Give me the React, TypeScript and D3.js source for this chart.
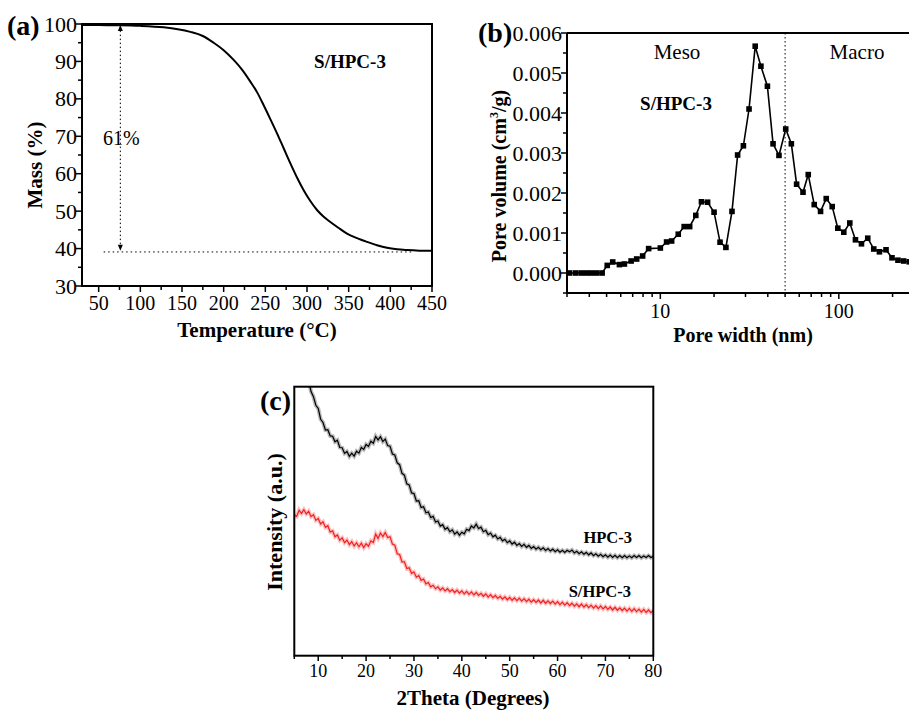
import React from "react";
import * as d3 from "d3";

// ---------- Panel (a): TGA ----------
const tgaTemp = [30, 50, 76, 100, 128, 145, 160, 175, 188, 200, 212, 222, 232, 240, 248, 256, 264, 272, 280, 288, 296, 304, 312, 320, 328, 338, 348, 360, 372, 384, 396, 408, 420, 435, 450];
const tgaMass = [99.75, 99.7, 99.65, 99.5, 99.1, 98.6, 97.9, 96.8, 95.0, 93.0, 90.4, 87.8, 84.6, 81.8, 78.3, 74.6, 70.8, 66.8, 62.8, 59.0, 55.6, 52.7, 50.3, 48.5, 47.1, 45.5, 44.0, 42.8, 41.8, 40.9, 40.2, 39.8, 39.6, 39.45, 39.4];
const tgaXTicks = [50, 100, 150, 200, 250, 300, 350, 400, 450];
const tgaYTicks = [30, 40, 50, 60, 70, 80, 90, 100];
const tgaResidual = 39.1;
const tgaArrowT = 76;

// ---------- Panel (b): pore size distribution ----------
const poreWidth = [3.1, 3.35, 3.6, 3.85, 4.1, 4.4, 4.72, 5.04, 5.41, 5.9, 6.29, 6.86, 7.37, 7.96, 8.6, 10.0, 10.84, 11.57, 12.6, 13.6, 14.6, 15.8, 17.0, 18.4, 20.0, 21.6, 23.3, 25.2, 27.1, 29.2, 31.4, 34.0, 36.6, 39.8, 42.8, 46.2, 50.4, 54.2, 58.0, 63.0, 67.4, 72.8, 79.0, 85.0, 91.8, 98.7, 106.6, 115.2, 123.9, 133.9, 145.2, 156.9, 168.8, 183.8, 198.5, 214.4, 230.7, 248];
const poreVolume = [0, 0, 0, 0, 0, 0, 0, 0.00019, 0.000275, 0.00021, 0.000225, 0.0003, 0.00035, 0.000425, 0.00061, 0.000625, 0.000775, 0.0008, 0.00097, 0.00116, 0.00116, 0.00144, 0.00178, 0.00177, 0.00152, 0.00077, 0.00064, 0.00154, 0.00295, 0.00318, 0.0041, 0.00567, 0.00517, 0.00467, 0.00323, 0.00294, 0.0036, 0.00323, 0.00222, 0.00202, 0.00246, 0.00171, 0.00154, 0.00186, 0.00166, 0.00112, 0.00102, 0.00125, 0.00083, 0.00073, 0.00087, 0.0006, 0.00053, 0.00058, 0.00038, 0.00032, 0.0003, 0.00028];
const poreYTicks = [0, 0.001, 0.002, 0.003, 0.004, 0.005, 0.006];
const poreXTicks = [10, 100];
const mesoMacroBoundary = 50;

// ---------- Panel (c): XRD ----------
const xrdStep = 0.5;
const hpcStart = 8;
const hpcIntensity = [102.1, 98.2, 96.3, 93.1, 91.9, 87.9, 86.7, 83.9, 84.0, 81.7, 81.6, 79.5, 80.1, 77.4, 77.3, 75.2, 75.9, 74.1, 75.3, 74.2, 76.0, 75.3, 77.4, 76.7, 78.5, 77.8, 79.7, 79.0, 81.5, 80.2, 81.4, 79.6, 80.5, 78.1, 77.9, 75.0, 74.6, 71.7, 71.0, 67.8, 67.1, 63.9, 63.5, 60.5, 60.3, 57.5, 57.6, 55.1, 55.4, 53.1, 53.4, 51.4, 51.8, 49.7, 50.1, 48.2, 48.7, 47.0, 47.6, 46.1, 46.8, 45.2, 46.0, 44.8, 45.9, 45.3, 47.0, 46.5, 48.2, 47.5, 48.9, 47.3, 47.8, 46.1, 46.6, 45.0, 45.6, 44.2, 44.8, 43.4, 44.0, 42.7, 43.3, 42.0, 42.7, 41.5, 42.2, 41.0, 41.7, 40.6, 41.4, 40.3, 41.0, 39.9, 40.6, 39.6, 40.3, 39.4, 40.1, 39.1, 39.8, 38.9, 39.6, 38.7, 39.4, 38.5, 39.2, 38.4, 39.2, 38.6, 39.3, 38.2, 38.8, 37.9, 38.6, 37.7, 38.4, 37.5, 38.2, 37.2, 37.9, 37.0, 37.7, 36.8, 37.5, 36.6, 37.4, 36.5, 37.3, 36.4, 37.2, 36.4, 37.2, 36.4, 37.1, 36.4, 37.2, 36.5, 37.2, 36.4, 37.1, 36.5, 37.2, 36.5, 37.0];
const shpcStart = 5;
const shpcIntensity = [52.3, 51.8, 54.1, 52.9, 54.3, 52.7, 53.7, 51.7, 52.4, 50.3, 51.0, 49.0, 49.8, 47.7, 48.3, 46.0, 46.4, 44.2, 44.9, 42.9, 43.8, 42.0, 43.0, 41.3, 42.4, 40.8, 42.0, 40.5, 41.8, 40.2, 41.6, 40.7, 42.7, 42.1, 45.2, 43.6, 45.6, 44.3, 45.8, 43.9, 44.2, 41.5, 41.1, 37.9, 37.6, 34.9, 34.9, 32.4, 32.7, 30.6, 31.1, 29.2, 29.8, 28.0, 28.5, 26.7, 27.2, 25.6, 26.2, 24.9, 25.6, 24.4, 25.2, 24.1, 24.9, 23.8, 24.6, 23.5, 24.4, 23.3, 24.1, 23.0, 23.9, 22.8, 23.7, 22.6, 23.5, 22.4, 23.2, 22.1, 23.0, 21.8, 22.7, 21.6, 22.4, 21.3, 22.1, 21.0, 21.9, 20.8, 21.7, 20.6, 21.5, 20.5, 21.4, 20.3, 21.2, 20.1, 21.0, 19.9, 20.8, 19.8, 20.7, 19.6, 20.6, 19.5, 20.4, 19.4, 20.3, 19.2, 20.1, 19.0, 19.9, 18.8, 19.7, 18.6, 19.5, 18.4, 19.3, 18.2, 19.2, 18.1, 19.0, 17.9, 18.8, 17.7, 18.6, 17.5, 18.5, 17.4, 18.3, 17.2, 18.1, 17.0, 18.0, 16.9, 17.8, 16.8, 17.7, 16.6, 17.6, 16.5, 17.5, 16.4, 17.3, 16.2, 17.2, 16.1, 17.0, 16.0, 16.8];
const xrdXTicks = [10, 20, 30, 40, 50, 60, 70, 80];

const FONT = "'Liberation Serif', 'Times New Roman', serif";

function App() {
  const ax = d3.scaleLinear().domain([30, 450]).range([82, 432]);
  const ay = d3.scaleLinear().domain([30, 100]).range([286, 24]);
  const tgaLine = d3.line<number>().x((_, i) => ax(tgaTemp[i])).y((d) => ay(d)).curve(d3.curveMonotoneX);
  const aMinorX = d3.range(75, 450, 50);
  const aMinorY = d3.range(35, 100, 10);

  const bx = d3.scaleLog().domain([3, 1000]).range([567, 567 + 178.5 * Math.log10(1000 / 3)]);
  const by = d3.scaleLinear().domain([-0.0005, 0.006]).range([293, 33]);
  const poreLine = d3.line<number>().x((_, i) => bx(poreWidth[i])).y((d) => by(d));
  const bMinorX = [3, 4, 5, 6, 7, 8, 9, 20, 30, 40, 50, 60, 70, 80, 90, 200, 300];
  const bMinorY = d3.range(-0.0005, 0.006, 0.001);

  const cx = d3.scaleLinear().domain([5, 80]).range([294.3, 653.3]);
  const cy = d3.scaleLinear().domain([0, 100]).range([655.7, 386.7]);
  const hpcLine = d3.line<number>().x((_, i) => cx(hpcStart + i * xrdStep)).y((d) => cy(d));
  const shpcLine = d3.line<number>().x((_, i) => cx(shpcStart + i * xrdStep)).y((d) => cy(d));
  const cMinorX = d3.range(5, 80, 10);

  const sq = 5.6;

  return (
    <svg width={909} height={710} style={{ position: "absolute", left: 0, top: 0, background: "#fff" }} fontFamily={FONT}>
      <defs>
        <clipPath id="clipC">
          <rect x={cx(5)} y={cy(100)} width={cx(80) - cx(5)} height={cy(0) - cy(100)} />
        </clipPath>
        <clipPath id="clipB">
          <rect x={bx(3)} y={by(0.006)} width={909 - bx(3)} height={by(-0.0005) - by(0.006)} />
        </clipPath>
      </defs>

      {/* ================= (a) ================= */}
      <g>
        <path d={tgaLine(tgaMass) || ""} fill="none" stroke="#000" strokeWidth={2} />
        <line x1={ax(56)} x2={ax(427)} y1={ay(tgaResidual)} y2={ay(tgaResidual)} stroke="#000" strokeWidth={1} strokeDasharray="1.5,3" />
        <line x1={ax(tgaArrowT)} x2={ax(tgaArrowT)} y1={ay(99.3)} y2={ay(39.8)} stroke="#000" strokeWidth={1} strokeDasharray="1.5,2.5" />
        <path d={`M${ax(tgaArrowT)},${ay(99.7)} l-2.5,6 l5,0 z`} fill="#000" />
        <path d={`M${ax(tgaArrowT)},${ay(39.4)} l-2.5,-6 l5,0 z`} fill="#000" />
        <text x={ax(tgaArrowT) + 1} y={145} fontSize={20} textAnchor="middle">61%</text>
        <text x={350} y={68} fontSize={19} fontWeight="bold" textAnchor="middle">S/HPC-3</text>

        <rect x={82} y={24} width={432 - 82} height={286 - 24} fill="none" stroke="#000" strokeWidth={2} />
        {tgaXTicks.map((t) => (
          <g key={"ax" + t}>
            <line x1={ax(t)} x2={ax(t)} y1={286} y2={292} stroke="#000" strokeWidth={1.5} />
            <text x={ax(t)} y={310} fontSize={20} textAnchor="middle">{t}</text>
          </g>
        ))}
        {aMinorX.map((t) => (
          <line key={"axm" + t} x1={ax(t)} x2={ax(t)} y1={286} y2={290} stroke="#000" strokeWidth={1.5} />
        ))}
        {tgaYTicks.map((t) => (
          <g key={"ay" + t}>
            <line x1={82} x2={76} y1={ay(t)} y2={ay(t)} stroke="#000" strokeWidth={1.5} />
            <text x={77} y={ay(t) + 7.5} fontSize={22} textAnchor="end">{t}</text>
          </g>
        ))}
        {aMinorY.map((t) => (
          <line key={"aym" + t} x1={82} x2={78} y1={ay(t)} y2={ay(t)} stroke="#000" strokeWidth={1.5} />
        ))}
        <text x={257} y={337} fontSize={21} fontWeight="bold" textAnchor="middle">Temperature (°C)</text>
        <text transform="translate(42,165) rotate(-90)" fontSize={21} fontWeight="bold" textAnchor="middle">Mass (%)</text>
        <text x={7} y={35} fontSize={28} fontWeight="bold">(a)</text>
      </g>

      {/* ================= (b) ================= */}
      <g>
        <line x1={bx(mesoMacroBoundary)} x2={bx(mesoMacroBoundary)} y1={by(0.006)} y2={by(-0.0005)} stroke="#000" strokeWidth={1} strokeDasharray="1.5,2.5" />
        <g clipPath="url(#clipB)">
          <path d={poreLine(poreVolume) || ""} fill="none" stroke="#000" strokeWidth={1.6} />
          {poreVolume.map((v, i) => (
            <rect key={"sq" + i} x={bx(poreWidth[i]) - sq / 2} y={by(v) - sq / 2} width={sq} height={sq} fill="#000" />
          ))}
        </g>
        <text x={677} y={59} fontSize={21} textAnchor="middle">Meso</text>
        <text x={857} y={59} fontSize={21} textAnchor="middle">Macro</text>
        <text x={676} y={110} fontSize={19} fontWeight="bold" textAnchor="middle">S/HPC-3</text>

        <line x1={bx(3)} x2={909} y1={by(0.006)} y2={by(0.006)} stroke="#000" strokeWidth={2} />
        <line x1={bx(3)} x2={909} y1={by(-0.0005)} y2={by(-0.0005)} stroke="#000" strokeWidth={2} />
        <line x1={bx(3)} x2={bx(3)} y1={by(0.006)} y2={by(-0.0005)} stroke="#000" strokeWidth={2} />
        {poreXTicks.map((t) => (
          <g key={"bx" + t}>
            <line x1={bx(t)} x2={bx(t)} y1={293} y2={299} stroke="#000" strokeWidth={1.5} />
            <text x={bx(t)} y={318} fontSize={20} textAnchor="middle">{t}</text>
          </g>
        ))}
        {bMinorX.map((t) => (
          <line key={"bxm" + t} x1={bx(t)} x2={bx(t)} y1={293} y2={297} stroke="#000" strokeWidth={1.5} />
        ))}
        {poreYTicks.map((t) => (
          <g key={"by" + t}>
            <line x1={567} x2={561} y1={by(t)} y2={by(t)} stroke="#000" strokeWidth={1.5} />
            <text x={562} y={by(t) + 7.5} fontSize={22} textAnchor="end">{t.toFixed(3)}</text>
          </g>
        ))}
        {bMinorY.map((t) => (
          <line key={"bym" + t} x1={567} x2={563} y1={by(t)} y2={by(t)} stroke="#000" strokeWidth={1.5} />
        ))}
        <text x={743} y={342} fontSize={20} fontWeight="bold" textAnchor="middle">Pore width (nm)</text>
        <text transform="translate(506,176) rotate(-90)" fontSize={20} fontWeight="bold" textAnchor="middle">
          Pore volume (cm<tspan fontSize={12} dy={-8}>3</tspan><tspan dy={8}>/g)</tspan>
        </text>
        <text x={478} y={42} fontSize={28} fontWeight="bold">(b)</text>
      </g>

      {/* ================= (c) ================= */}
      <g>
        <g clipPath="url(#clipC)">
          <path d={hpcLine(hpcIntensity) || ""} fill="none" stroke="#000" strokeOpacity={0.28} strokeWidth={4} strokeLinejoin="miter" />
          <path d={hpcLine(hpcIntensity) || ""} fill="none" stroke="#000" strokeWidth={1.2} />
          <path d={shpcLine(shpcIntensity) || ""} fill="none" stroke="#f02020" strokeOpacity={0.28} strokeWidth={4} strokeLinejoin="miter" />
          <path d={shpcLine(shpcIntensity) || ""} fill="none" stroke="#f02020" strokeWidth={1.2} />
        </g>
        <text x={632} y={543} fontSize={16.5} fontWeight="bold" textAnchor="end">HPC-3</text>
        <text x={631} y={597} fontSize={16.5} fontWeight="bold" textAnchor="end">S/HPC-3</text>
        <rect x={cx(5)} y={cy(100)} width={cx(80) - cx(5)} height={cy(0) - cy(100)} fill="none" stroke="#000" strokeWidth={2} />
        {xrdXTicks.map((t) => (
          <g key={"cx" + t}>
            <line x1={cx(t)} x2={cx(t)} y1={655.7} y2={661} stroke="#000" strokeWidth={1.5} />
            <text x={cx(t)} y={677} fontSize={18} textAnchor="middle">{t}</text>
          </g>
        ))}
        {cMinorX.map((t) => (
          <line key={"cxm" + t} x1={cx(t)} x2={cx(t)} y1={655.7} y2={659} stroke="#000" strokeWidth={1.5} />
        ))}
        <text x={473} y={705} fontSize={21} fontWeight="bold" textAnchor="middle">2Theta (Degrees)</text>
        <text transform="translate(282,522) rotate(-90)" fontSize={22} fontWeight="bold" textAnchor="middle">Intensity (a.u.)</text>
        <text x={260} y={410} fontSize={28} fontWeight="bold">(c)</text>
      </g>
    </svg>
  );
}

export default App;
